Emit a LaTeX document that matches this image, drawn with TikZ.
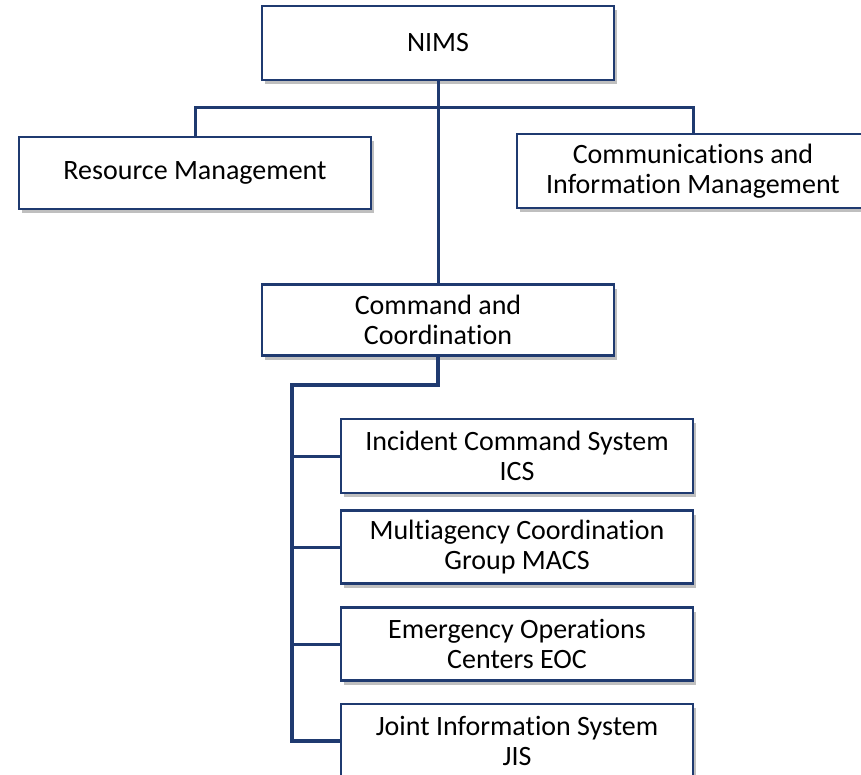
\documentclass[tikz,border=0pt]{standalone}
\usepackage{fontspec}
\setmainfont[Ligatures=NoCommon]{Carlito}
\usetikzlibrary{shadows}
\definecolor{navy}{HTML}{1F3A70}
\begin{document}
\begin{tikzpicture}[x=1pt,y=-1pt,
  box/.style={draw=navy,line width=2.4pt,fill=white,minimum width=352pt,
    align=center,inner sep=0pt,font=\fontsize{28}{30}\selectfont,
    drop shadow={shadow xshift=3pt,shadow yshift=-4pt,opacity=0.25,fill=black}},
  conn/.style={draw=navy,line width=3pt},
  spine/.style={draw=navy,line width=3.6pt}]
\useasboundingbox (0,0) rectangle (861,774);
\clip (0,0) rectangle (861,774);
\node[box,minimum height=74pt] (nims) at (438,43) {NIMS};
\node[box,minimum height=72pt] (res) at (195,173) {Resource Management};
\node[box,minimum height=74pt] (comms) at (693,171) {Communications and\\Information Management};
\node[box,minimum height=71pt] (cmd) at (438,320) {Command and\\Coordination};
\node[box,minimum height=74pt] (ics) at (517,456) {Incident Command System\\ICS};
\node[box,minimum height=73pt] (macs) at (517,547) {Multiagency Coordination\\Group MACS};
\node[box,minimum height=73pt] (eoc) at (517,644) {Emergency Operations\\Centers EOC};
\node[box,minimum height=74pt] (jis) at (517,741) {Joint Information System\\JIS};
\coordinate (bar) at (438,107);
\coordinate (elbow) at (292,385);
\draw[conn] (res.north) |- (bar) -| (comms.north);
\draw[conn] (nims.south) -- (cmd.north);
\draw[spine] (cmd.south) |- (elbow) |- (jis.west);
\draw[conn] (elbow |- ics.west) -- (ics.west);
\draw[conn] (elbow |- macs.west) -- (macs.west);
\draw[conn] (elbow |- eoc.west) -- (eoc.west);
\end{tikzpicture}
\end{document}
